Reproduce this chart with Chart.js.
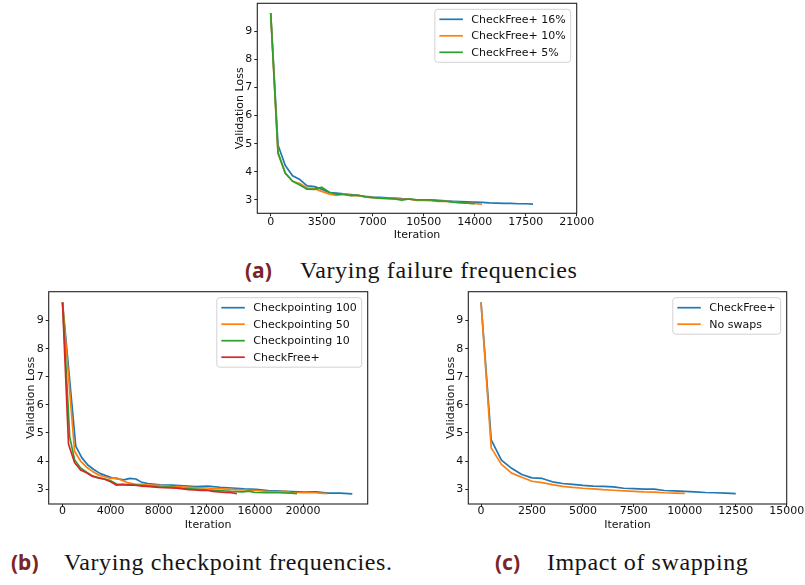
<!DOCTYPE html>
<html>
<head>
<meta charset="utf-8">
<script src="https://cdn.jsdelivr.net/npm/chart.js@4.4.1/dist/chart.umd.min.js"></script>
<style>
  body { margin: 0; background: #fff; width: 805px; height: 585px; position: relative; overflow: hidden; }
  canvas { position: absolute; }
  .cap { position: absolute; white-space: nowrap; line-height: 1; font-family: "Liberation Serif", serif; font-size: 24px; letter-spacing: 0.6px; color: #141414; }
  .cap .lab { display: inline-block; letter-spacing: 0; font-family: "Noto Sans", sans-serif; font-weight: 700; font-size: 21px; color: #7a2528; }
</style>
</head>
<body>
<canvas id="chartA" width="400" height="250" style="left:200px;top:0px"></canvas>
<canvas id="chartB" width="400" height="250" style="left:0px;top:285px"></canvas>
<canvas id="chartC" width="385" height="250" style="left:420px;top:285px"></canvas>

<div class="cap" style="left:245px;top:258px"><span class="lab" style="width:55px">(a)</span>Varying failure frequencies</div>
<div class="cap" style="left:11px;top:550px"><span class="lab" style="width:53px">(b)</span>Varying checkpoint frequencies.</div>
<div class="cap" style="left:495px;top:550px"><span class="lab" style="width:52px">(c)</span>Impact of swapping</div>

<script>
// iterations logged every 500 steps
const iters500 = [0, 500, 1000, 1500, 2000, 2500, 3000, 3500, 4000, 4500, 5000, 5500, 6000, 6500, 7000, 7500,
    8000, 8500, 9000, 9500, 10000, 10500, 11000, 11500, 12000, 12500, 13000, 13500, 14000, 14500, 15000,
    15500, 16000, 16500, 17000, 17500, 18000];

// (a) varying failure frequencies
const lossA16 = [9.65, 4.95, 4.22, 3.86, 3.72, 3.50, 3.47, 3.38, 3.26, 3.24, 3.21, 3.19, 3.15, 3.12, 3.10, 3.09,
    3.07, 3.06, 3.04, 3.03, 3.00, 3.00, 2.99, 2.98, 2.96, 2.95, 2.94, 2.93, 2.92, 2.91, 2.89, 2.88, 2.87, 2.87,
    2.86, 2.86, 2.85];
const lossA10 = [9.65, 4.65, 3.95, 3.66, 3.58, 3.42, 3.40, 3.30, 3.21, 3.16, 3.20, 3.16, 3.15, 3.10, 3.08, 3.06,
    3.04, 3.03, 3.02, 3.02, 2.98, 2.98, 2.97, 2.94, 2.95, 2.93, 2.90, 2.88, 2.87, 2.84];
const lossA5 = [9.65, 4.68, 3.95, 3.66, 3.53, 3.38, 3.37, 3.45, 3.28, 3.20, 3.19, 3.15, 3.17, 3.10, 3.08, 3.06,
    3.05, 3.03, 2.99, 3.03, 3.00, 3.00, 3.00, 2.96, 2.95, 2.92, 2.90, 2.88, 2.86];

// (b) varying checkpoint frequencies
const itersB100 = [0, 1100, 1600, 2100, 2600, 3100, 4100, 5100, 5600, 6100, 6600, 7100, 8100, 9100, 10100, 11100,
    12100, 13100, 14100, 15100, 16100, 17100, 18100, 19100, 20100, 21100, 22100, 23100, 24100];
const lossB100 = [9.65, 4.53, 4.12, 3.86, 3.70, 3.56, 3.40, 3.33, 3.38, 3.36, 3.24, 3.20, 3.15, 3.14, 3.12, 3.09,
    3.11, 3.06, 3.04, 3.01, 2.99, 2.95, 2.93, 2.91, 2.89, 2.90, 2.86, 2.86, 2.83];
const itersB50 = [0, 1000, 1500, 2000, 2500, 3000, 3500, 4000, 4500, 5000, 5500, 6000, 7000, 8000, 9000, 10000,
    11000, 12000, 13000, 14000, 15000, 16000, 17000, 18000, 18500, 19000, 20000, 21000, 22000];
const lossB50 = [9.65, 4.35, 4.00, 3.78, 3.63, 3.50, 3.44, 3.38, 3.40, 3.30, 3.22, 3.18, 3.15, 3.13, 3.10, 3.08,
    3.05, 3.04, 3.02, 2.99, 2.97, 2.95, 2.92, 2.90, 2.93, 2.88, 2.87, 2.87, 2.84];
const itersB10 = [0, 600, 1000, 1500, 2000, 2500, 3000, 3500, 4000, 4500, 5000, 6000, 7000, 8000, 9000, 10000,
    11000, 12000, 13000, 14000, 15000, 15500, 16000, 17000, 18000, 19000, 19500];
const lossB10 = [9.65, 4.85, 4.05, 3.75, 3.60, 3.47, 3.40, 3.36, 3.30, 3.18, 3.17, 3.15, 3.12, 3.08, 3.07, 3.03,
    3.00, 2.97, 2.95, 2.92, 2.90, 2.93, 2.88, 2.87, 2.87, 2.86, 2.84];
const lossBcf = [9.65, 4.60, 3.95, 3.68, 3.58, 3.45, 3.40, 3.35, 3.26, 3.14, 3.16, 3.14, 3.14, 3.11, 3.10, 3.08,
    3.06, 3.05, 3.04, 3.03, 3.01, 2.98, 2.97, 2.95, 2.96, 2.92, 2.90, 2.88, 2.87, 2.84];

// (c) impact of swapping
const lossCcf = [9.65, 4.75, 4.03, 3.74, 3.52, 3.40, 3.38, 3.26, 3.20, 3.17, 3.13, 3.11, 3.10, 3.08, 3.03, 3.02,
    3.00, 3.00, 2.95, 2.94, 2.92, 2.90, 2.88, 2.87, 2.86, 2.84];
const lossCnoswap = [9.65, 4.47, 3.88, 3.57, 3.42, 3.28, 3.23, 3.16, 3.10, 3.06, 3.03, 3.01, 2.98, 2.96, 2.94,
    2.92, 2.90, 2.89, 2.87, 2.86, 2.85];

// tick labels
const xTicksA = [0, 3500, 7000, 10500, 14000, 17500, 21000];
const xTicksB = [0, 4000, 8000, 12000, 16000, 20000];
const xTicksC = [0, 2500, 5000, 7500, 10000, 12500, 15000];
const yTicks = [3, 4, 5, 6, 7, 8, 9];

const BLUE = "#1f77b4", ORANGE = "#ff7f0e", GREEN = "#2ca02c", RED = "#d62728";

Chart.defaults.font.family = "'DejaVu Sans', sans-serif";
Chart.defaults.font.size = 11;
Chart.defaults.color = "#111";

function pts(xs, ys) {
    return ys.map((y, i) => ({ x: xs[i], y: y }));
}

// matplotlib-ish axes frame + legend box in the upper right
const mplLook = {
    id: "mplLook",
    afterDraw(chart) {
        const ctx = chart.ctx;
        const a = chart.chartArea;
        ctx.save();
        ctx.strokeStyle = "#222";
        ctx.lineWidth = 1.1;
        ctx.strokeRect(a.left, a.top, a.right - a.left, a.bottom - a.top);

        const sets = chart.data.datasets;
        ctx.font = "11px 'DejaVu Sans'";
        let textW = Math.max(...sets.map(d => ctx.measureText(d.label).width));
        let rowH = 16.5;
        let w = 4.5 + 23.5 + 8.5 + textW + 5;
        let h = 20 + (sets.length - 1) * rowH;
        let x0 = a.right - 6 - w;
        let y0 = a.top + 6;
        ctx.beginPath();
        ctx.roundRect(x0, y0, w, h, 3);
        ctx.fillStyle = "rgba(255,255,255,0.85)";
        ctx.fill();
        ctx.strokeStyle = "#d2d2d2";
        ctx.lineWidth = 1;
        ctx.stroke();
        sets.forEach((d, i) => {
            let y = y0 + 10 + i * rowH;
            ctx.beginPath();
            ctx.moveTo(x0 + 4.5, y);
            ctx.lineTo(x0 + 28, y);
            ctx.strokeStyle = d.borderColor;
            ctx.lineWidth = 1.7;
            ctx.stroke();
            ctx.fillStyle = "#111";
            ctx.textBaseline = "middle";
            ctx.fillText(d.label, x0 + 36.5, y + 0.5);
        });
        ctx.restore();
    }
};

function makeChart(id, datasets, xRange, xTicks, yRange, geo) {
    const n = datasets.length;
    datasets.forEach((d, i) => {
        d.fill = false;
        d.pointRadius = 0;
        d.borderWidth = 1.7;
        d.tension = 0;
        d.borderJoinStyle = "round";
        d.order = n - i; // later series on top, like matplotlib
    });
    return new Chart(document.getElementById(id), {
        type: "line",
        data: { datasets: datasets },
        options: {
            responsive: false,
            animation: false,
            layout: { padding: { top: geo.padTop, right: geo.padRight, left: 0, bottom: 0 } },
            plugins: { legend: { display: false }, tooltip: { enabled: false } },
            scales: {
                x: {
                    type: "linear",
                    bounds: "data",
                    min: xRange[0],
                    max: xRange[1],
                    afterBuildTicks: s => { s.ticks = xTicks.map(v => ({ value: v })); },
                    afterFit: s => { s.height = geo.xH; s.paddingLeft = 0; s.paddingRight = 0; },
                    grid: { drawOnChartArea: false, drawTicks: true, tickLength: 3, color: "#222" },
                    border: { display: false },
                    ticks: { autoSkip: false, maxRotation: 0, padding: geo.xTickPad, callback: v => String(v) },
                    title: { display: true, text: "Iteration", padding: { top: 0, bottom: geo.xTitlePad } }
                },
                y: {
                    type: "linear",
                    bounds: "data",
                    min: yRange[0],
                    max: yRange[1],
                    afterBuildTicks: s => { s.ticks = yTicks.map(v => ({ value: v })); },
                    afterFit: s => { s.width = geo.yW; s.paddingTop = 0; s.paddingBottom = 0; },
                    grid: { drawOnChartArea: false, drawTicks: true, tickLength: 3, color: "#222" },
                    border: { display: false },
                    ticks: { autoSkip: false, padding: 2, callback: v => String(v) },
                    title: { display: true, text: "Validation Loss", padding: { top: geo.yTitlePad, bottom: 0 } }
                }
            }
        },
        plugins: [mplLook]
    });
}

makeChart("chartA", [
    { label: "CheckFree+ 16%", data: pts(iters500, lossA16), borderColor: BLUE },
    { label: "CheckFree+ 10%", data: pts(iters500, lossA10), borderColor: ORANGE },
    { label: "CheckFree+ 5%", data: pts(iters500, lossA5), borderColor: GREEN }
], [-920, 21000], xTicksA, [2.52, 10.0],
    { padTop: 3.3, padRight: 23.3, yW: 57.3, xH: 36.7, yTitlePad: 33.4, xTitlePad: 8.2, xTickPad: -0.5 });

makeChart("chartB", [
    { label: "Checkpointing 100", data: pts(itersB100, lossB100), borderColor: BLUE },
    { label: "Checkpointing 50", data: pts(itersB50, lossB50), borderColor: ORANGE },
    { label: "Checkpointing 10", data: pts(itersB10, lossB10), borderColor: GREEN },
    { label: "CheckFree+", data: pts(iters500, lossBcf), borderColor: RED }
], [-1150, 25380], xTicksB, [2.47, 10.03],
    { padTop: 6.7, padRight: 32.3, yW: 48.7, xH: 31, yTitlePad: 24.1, xTitlePad: 3.4, xTickPad: -2 });

makeChart("chartC", [
    { label: "CheckFree+", data: pts(iters500, lossCcf), borderColor: BLUE },
    { label: "No swaps", data: pts(iters500, lossCnoswap), borderColor: ORANGE }
], [-625, 15000], xTicksC, [2.47, 10.03],
    { padTop: 6.7, padRight: 18.3, yW: 48.3, xH: 31, yTitlePad: 24.1, xTitlePad: 3.4, xTickPad: -2 });
</script>
</body>
</html>
